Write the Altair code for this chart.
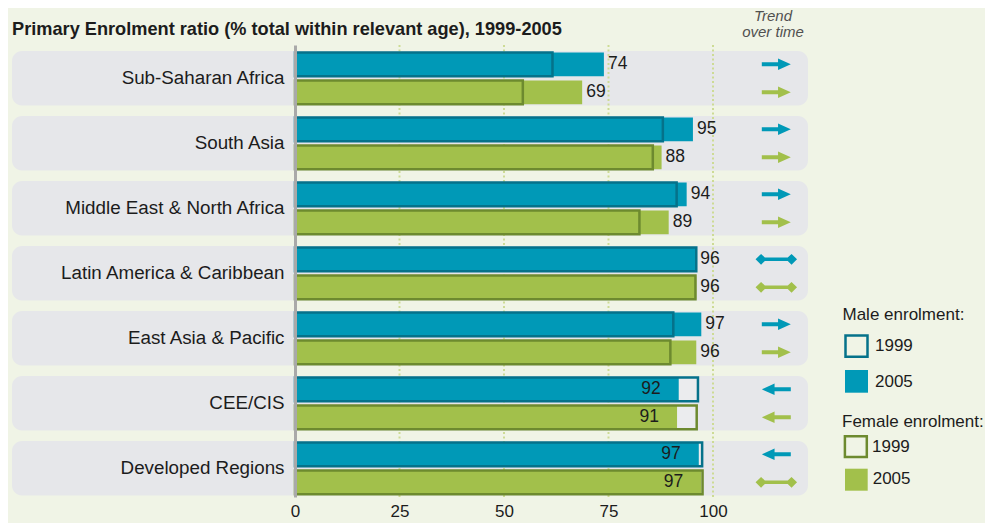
import altair as alt
import pandas as pd

# ---------------- data ----------------
regions = [
    "Sub-Saharan Africa",
    "South Asia",
    "Middle East & North Africa",
    "Latin America & Caribbean",
    "East Asia & Pacific",
    "CEE/CIS",
    "Developed Regions",
]
male_1999 = [61.6, 88.0, 91.3, 96.0, 90.5, 96.4, 97.4]
male_2005 = [73.9, 95.2, 93.7, 96.0, 97.2, 91.8, 96.6]
female_1999 = [54.5, 85.6, 82.4, 95.8, 89.8, 96.1, 97.5]
female_2005 = [68.7, 87.7, 89.4, 96.0, 96.0, 91.4, 97.2]
male_trend = ["up", "up", "up", "flat", "up", "down", "down"]
female_trend = ["up", "up", "up", "flat", "up", "down", "flat"]
sexes = ["Male", "Female"]
x_ticks = [0, 25, 50, 75, 100]
grid_ticks = [25, 50, 75, 100]
title_text = "Primary Enrolment ratio (% total within relevant age), 1999-2005"
trend_title = "Trend\nover time"
legend_titles = ["Male enrolment:", "Female enrolment:"]
legend_years = ["1999", "2005"]

rows = []
for i, r in enumerate(regions):
    rows.append(dict(region=r, sex="Male", v1999=male_1999[i], v2005=male_2005[i], trend=male_trend[i]))
    rows.append(dict(region=r, sex="Female", v1999=female_1999[i], v2005=female_2005[i], trend=female_trend[i]))
df = pd.DataFrame(rows)
df_regions = pd.DataFrame({"region": regions})
df_grid = pd.DataFrame({"v": grid_ticks})

# ---------------- style ----------------
FONT = "Liberation Sans"
BG = "#f0f4e6"
BAND = "#e6e7ea"
BLUE = "#0099b7"
BLUE_D = "#05728a"
GREEN = "#a2c04b"
GREEN_D = "#6d8a2f"
GRID = "#cddb95"
TXT = "#1c1c1c"

W, H = 418, 452
PAD = {"left": 287, "top": 37, "right": 272, "bottom": 26}

xscale = alt.Scale(domain=[0, 100], nice=False, zero=True)
xaxis = alt.Axis(values=x_ticks, grid=False, domain=False, ticks=False, tickSize=0,
                 labelFontSize=17, labelColor=TXT, labelFont=FONT, labelPadding=6,
                 labelFlush=False, title=None)
yscale = alt.Scale(domain=regions, paddingInner=0.16, paddingOuter=0.057, align=0.81, round=False)
yaxis = alt.Axis(title=None, ticks=False, tickSize=0, domain=True, domainColor="#a9a9a9",
                 domainWidth=3, labelFontSize=18.8, labelColor=TXT, labelFont=FONT,
                 labelPadding=11, labelLimit=400, zindex=1, grid=False)

Y = alt.Y("region:N", sort=regions, scale=yscale, axis=yaxis, title=None)
YO = alt.YOffset("sex:N", sort=sexes,
                 scale=alt.Scale(domain=sexes, paddingInner=0.15, paddingOuter=0.05))
fill_scale = alt.Scale(domain=sexes, range=[BLUE, GREEN])
stroke_scale = alt.Scale(domain=sexes, range=[BLUE_D, GREEN_D])

ARROW_R = "M-1,-0.14L0.12,-0.14L0.12,-0.4L1,0L0.12,0.4L0.12,0.14L-1,0.14Z"
ARROW_L = "M1,-0.14L-0.12,-0.14L-0.12,-0.4L-1,0L-0.12,0.4L-0.12,0.14L1,0.14Z"
ARROW_B = ("M-1.43,0L-1.05,-0.37L-0.79,-0.12L0.79,-0.12L1.05,-0.37L1.43,0"
           "L1.05,0.37L0.79,0.12L-0.79,0.12L-1.05,0.37Z")

base = alt.Chart(df)

bands = alt.Chart(df_regions).mark_rect(cornerRadius=10, fill=BAND).encode(
    y=Y, x=alt.value(-283), x2=alt.value(513))

grid = alt.Chart(df_grid).mark_rule(color=GRID, strokeWidth=2, strokeDash=[2, 2.5]).encode(
    x=alt.X("v:Q", scale=xscale, axis=xaxis))

bar99_fill = base.mark_bar(fill="#ebecee").encode(
    x=alt.X("v1999:Q", scale=xscale, axis=xaxis), y=Y, yOffset=YO)

bar05 = base.mark_bar().encode(
    x=alt.X("v2005:Q", scale=xscale, axis=xaxis), y=Y, yOffset=YO,
    fill=alt.Fill("sex:N", scale=fill_scale, legend=None))

bar99_stroke = base.mark_bar(fill="transparent", strokeWidth=2.5).encode(
    x=alt.X("v1999:Q", scale=xscale, axis=xaxis), y=Y, yOffset=YO,
    stroke=alt.Stroke("sex:N", scale=stroke_scale, legend=None))

lab_out = base.transform_filter("datum.v2005 >= datum.v1999").mark_text(
    align="left", baseline="middle", dx=4, fontSize=17.5, font=FONT, color=TXT).encode(
    x=alt.X("v2005:Q", scale=xscale, axis=xaxis), y=Y, yOffset=YO,
    text=alt.Text("v2005:Q", format=".0f"))

lab_in = base.transform_filter("datum.v2005 < datum.v1999").mark_text(
    align="right", baseline="middle", dx=-18, fontSize=17.5, font=FONT, color=TXT).encode(
    x=alt.X("v2005:Q", scale=xscale, axis=xaxis), y=Y, yOffset=YO,
    text=alt.Text("v2005:Q", format=".0f"))

arrows = base.mark_point(filled=True, size=841, opacity=1, strokeWidth=0).encode(
    x=alt.value(481.3), y=Y, yOffset=YO,
    fill=alt.Fill("sex:N", scale=fill_scale, legend=None),
    shape=alt.Shape("trend:N", scale=alt.Scale(domain=["up", "down", "flat"],
                                               range=[ARROW_R, ARROW_L, ARROW_B]), legend=None))


def label(text, x, y, size=17, align="left", baseline="middle", **kw):
    return alt.Chart(pd.DataFrame({"t": [text]})).mark_text(
        align=align, baseline=baseline, fontSize=size, font=FONT, color=kw.pop("color", TXT), **kw
    ).encode(text="t:N", x=alt.value(x), y=alt.value(y))


def box(x, x2, y, y2, **kw):
    return alt.Chart(pd.DataFrame({"t": [0]})).mark_rect(**kw).encode(
        x=alt.value(x), x2=alt.value(x2), y=alt.value(y), y2=alt.value(y2))


title = label(title_text, -283, -10, size=18.2, baseline="alphabetic", fontWeight="bold")
trend = label(trend_title, 478, -36.5, size=15, align="center", baseline="top",
              fontStyle="italic", color="#505050", lineBreak="\n", lineHeight=16.5)

leg = [
    label(legend_titles[0], 547.5, 270),
    box(550.5, 572.5, 290.5, 311.8, fill=BG, stroke=BLUE_D, strokeWidth=2.5),
    label(legend_years[0], 580, 301),
    box(550, 573, 325, 347.7, fill=BLUE),
    label(legend_years[1], 580, 336.5),
    label(legend_titles[1], 547, 376.7),
    box(549.9, 571.8, 391.2, 412.1, fill=BG, stroke=GREEN_D, strokeWidth=2.5),
    label(legend_years[0], 577, 402),
    box(550, 572.7, 423.7, 445.7, fill=GREEN),
    label(legend_years[1], 577.7, 434),
]

chart = alt.layer(
    bands, grid, bar99_fill, bar05, bar99_stroke, lab_out, lab_in, arrows,
    title, trend, *leg
).properties(
    width=W, height=H, padding=PAD, background=BG,
    autosize=alt.AutoSizeParams(type="none"),
).configure_view(stroke=None).configure_text(font=FONT)

chart.save("out.html", embed_options={"renderer": "svg", "actions": False})
